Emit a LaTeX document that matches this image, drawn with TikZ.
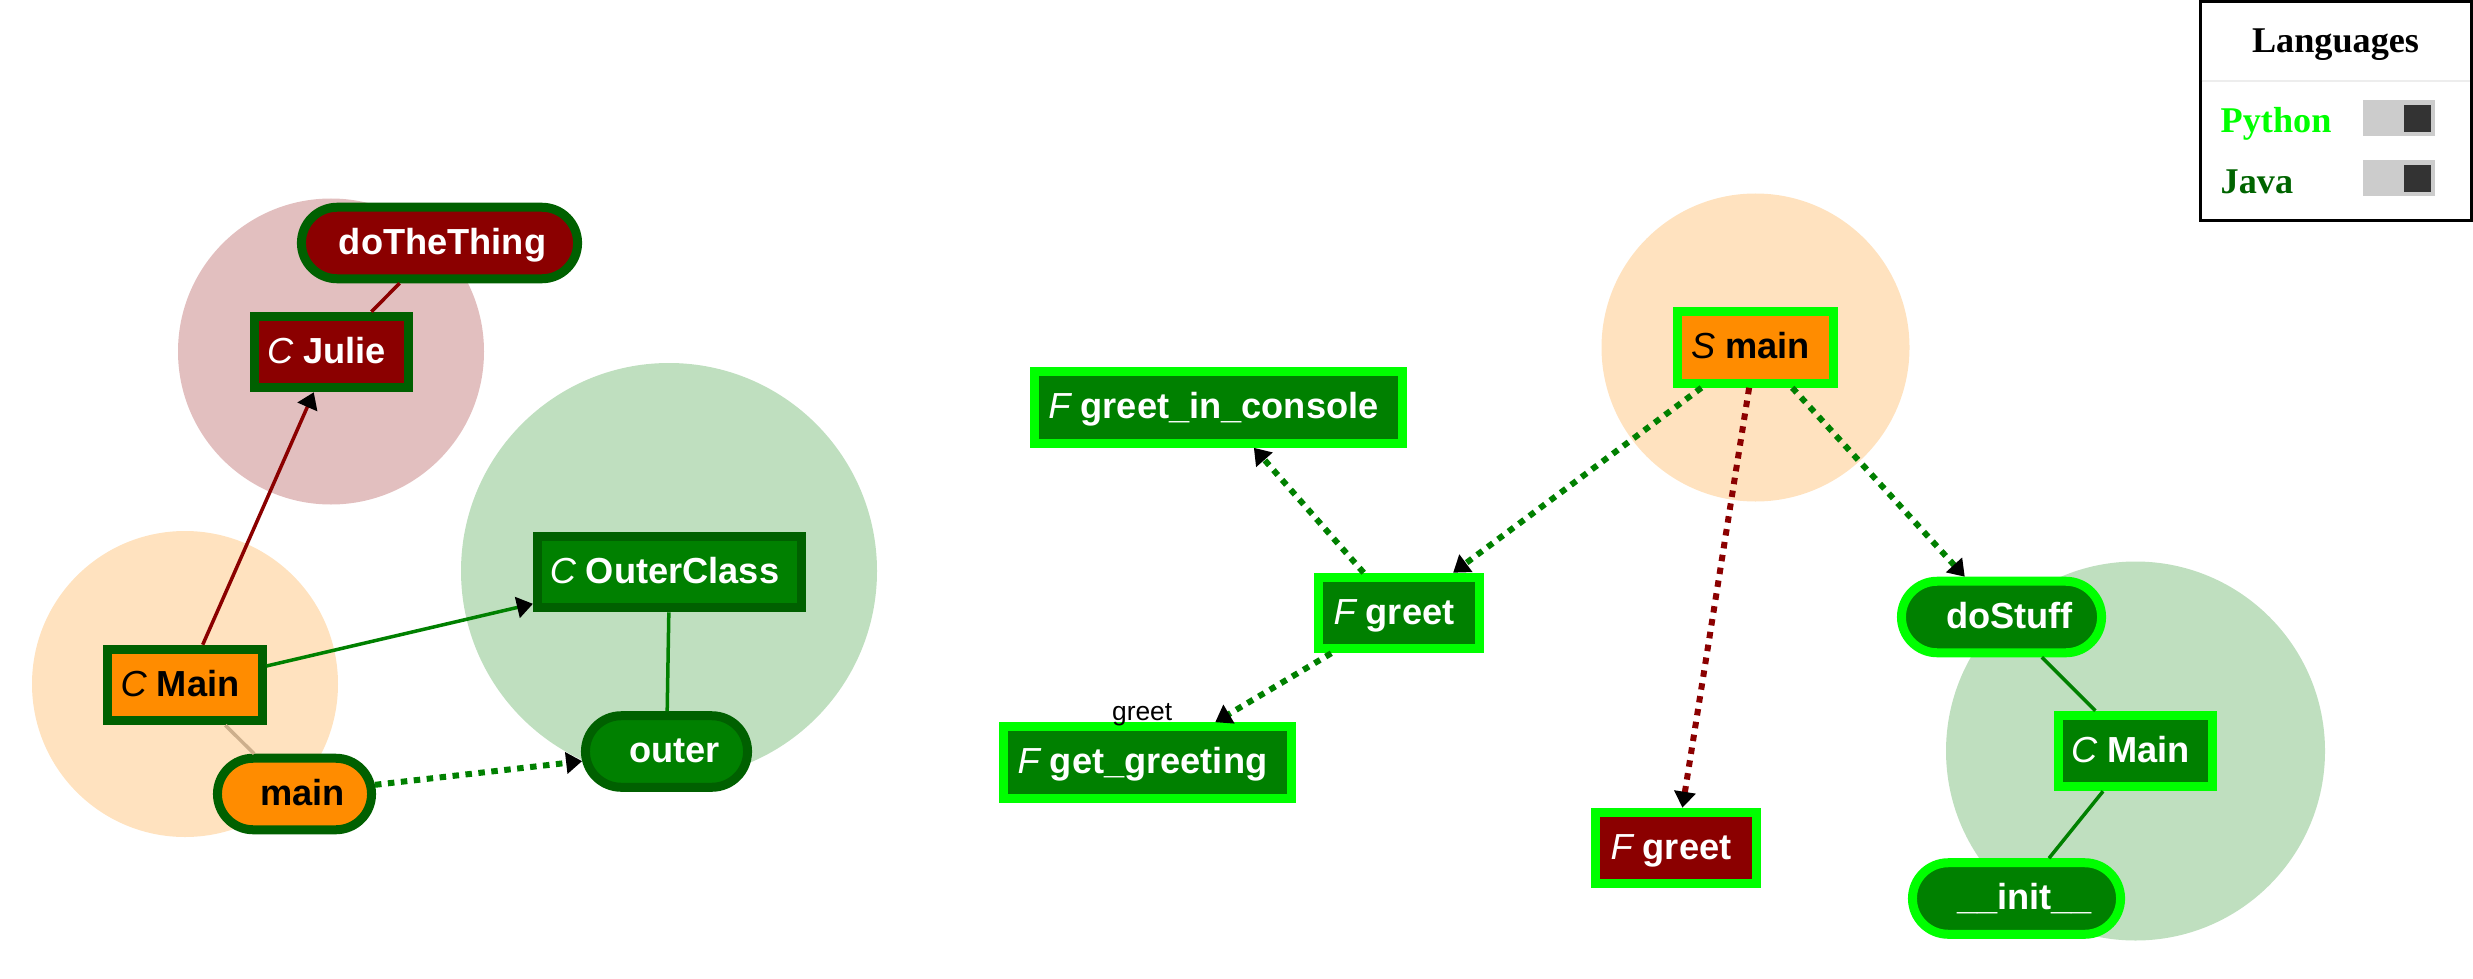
\documentclass[tikz,border=0pt]{standalone}
\usepackage{fontspec}
\setmainfont{Liberation Sans}
\newfontfamily\legende{Liberation Serif}
\definecolor{rougef}{RGB}{139,0,0}
\definecolor{vert}{RGB}{0,128,0}
\definecolor{vertf}{RGB}{0,96,0}
\definecolor{vertvif}{RGB}{0,255,0}
\definecolor{orangef}{RGB}{255,140,0}
\definecolor{tanl}{RGB}{205,175,140}
\definecolor{javavert}{RGB}{0,100,0}
\definecolor{grisbouton}{RGB}{204,204,204}
\definecolor{grisfonce}{RGB}{51,51,51}
\usepackage{tikz}
\usetikzlibrary{arrows.meta,shapes.misc,backgrounds}

\newcommand{\sorte}[1]{{\mdseries\itshape #1}\ }

\begin{document}
\begin{tikzpicture}[x=0.01cm,y=-0.01cm,font=\fontsize{10.3}{12}\selectfont\bfseries,
	boite/.style={rectangle,line width=0.09cm,inner sep=0pt,minimum height=0.715cm,
		text height=0.26cm,text depth=0.04cm,execute at end node={\hspace*{0.1cm}}},
	pilule/.style={rounded rectangle,line width=0.09cm,inner sep=0pt,minimum height=0.715cm,
		text height=0.26cm,text depth=0.04cm,execute at begin node={\hspace*{0.16cm}}},
	java/.style={draw=vertf},
	python/.style={draw=vertvif},
	rouge/.style={fill=rougef,text=white},
	orange/.style={fill=orangef,text=black},
	verte/.style={fill=vert,text=white},
	lien/.style={line width=0.035cm},
	appel/.style={line width=0.06cm,dash pattern=on 0.065cm off 0.065cm},
	fleche/.style={-{Triangle[length=0.16cm,width=0.21cm,color=black]}}]
	\useasboundingbox (0,0) rectangle (2473,979);

	%% partie Java
	\node[boite,java,rouge,pilule,minimum width=2.76cm] (dothething) at (439.5,243) {doTheThing};
	\node[boite,java,rouge,minimum width=1.54cm] (julie) at (331.5,352) {\sorte{C}Julie};
	\node[boite,java,orange,minimum width=1.54cm] (mainc) at (185,685) {\sorte{C}Main};
	\node[pilule,java,orange,minimum width=1.54cm] (mainf) at (294.5,794) {main};
	\node[boite,java,verte,minimum width=2.64cm] (outerclass) at (669.5,572) {\sorte{C}OuterClass};
	\node[pilule,java,verte,minimum width=1.62cm] (outer) at (666.5,751.5) {outer};

	%% partie Python
	\node[boite,python,verte,minimum width=3.68cm] (greetconsole) at (1218.5,407.5) {\sorte{F}greet\_in\_console};
	\node[boite,python,verte,minimum width=1.61cm] (greet) at (1399,613) {\sorte{F}greet};
	\node[boite,python,verte,minimum width=2.88cm] (getgreeting) at (1147.5,762.5) {\sorte{F}get\_greeting};
	\node[boite,python,orange,minimum width=1.56cm] (smain) at (1755.5,347.5) {\sorte{S}main};
	\node[boite,python,rouge,minimum width=1.61cm] (greetr) at (1676,848) {\sorte{F}greet};
	\node[pilule,python,verte,minimum width=2.00cm] (dostuff) at (2001.5,617) {doStuff};
	\node[boite,python,verte,minimum width=1.54cm] (mainr) at (2135.5,751) {\sorte{C}Main};
	\node[pilule,python,verte,minimum width=2.08cm] (init) at (2016.5,898.5) {\_\_init\_\_};

	%% groupes
	\begin{scope}[on background layer]
		\fill[rougef!25] (331,351.5) circle (153);
		\fill[orangef!25] (185,684) circle (153);
		\fill[vert!25] (669,571) circle (208);
		\fill[orangef!25] (1755.5,347.5) circle (154);
		\fill[vert!25] (2135.5,751) circle (189.5);
	\end{scope}

	%% liens
	\draw[lien,rougef] (julie) -- (dothething);
	\draw[lien,rougef,fleche] (mainc) -- (julie);
	\draw[lien,vert,fleche] (mainc) -- (outerclass);
	\draw[lien,tanl] (mainc) -- (mainf);
	\draw[lien,vert] (outerclass) -- (outer);
	\draw[appel,vert,fleche] (mainf) -- (outer);
	\draw[appel,vert,fleche] (greet) -- (greetconsole);
	\draw[appel,vert,fleche] (smain) -- (greet);
	\draw[appel,vert,fleche] (greet) -- (getgreeting)
		node[pos=1,anchor=base east,xshift=-0.4cm,yshift=0.02cm,inner sep=0pt,text=black,
			font=\fontsize{7.5}{9}\selectfont\mdseries] (etiquette) {greet};
	\draw[appel,rougef,fleche] (smain) -- (greetr);
	\draw[appel,vert,fleche] (smain) -- (dostuff);
	\draw[lien,vert] (dostuff) -- (mainr);
	\draw[lien,vert] (mainr) -- (init);

	%% legende
	\draw[line width=0.03cm] (2200,1.5) rectangle (2471.5,220.5);
	\draw[black!7,line width=0.02cm] (2201.5,81) -- (2470,81);
	\node[anchor=base,inner sep=0pt] (titre) at (2335.5,53) {\legende\bfseries Languages};
	\foreach \y/\lang/\coul in {133/Python/vertvif,193/Java/javavert}{
		\node[anchor=base west,inner sep=0pt,text=\coul] (\lang) at (2220,\y) {\legende\bfseries \lang};
		\fill[grisbouton] (2363,\y-33) rectangle (2435,\y+3);
		\fill[grisfonce] (2404,\y-28) rectangle (2431,\y-1);
	}
\end{tikzpicture}
\end{document}
